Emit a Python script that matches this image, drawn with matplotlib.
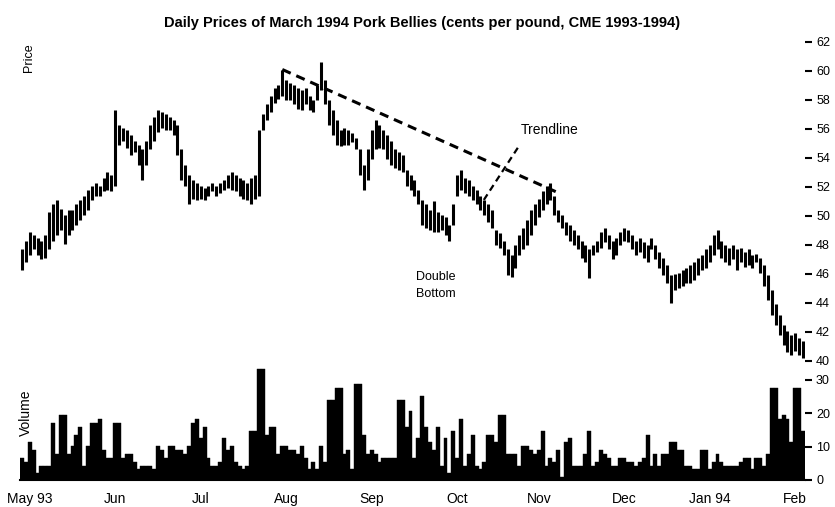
import numpy as np
import pandas as pd
import matplotlib
matplotlib.use("Agg")
import matplotlib.pyplot as plt

plt.rcParams['font.family'] = ['Liberation Sans', 'DejaVu Sans']

# daily high / low, cents per pound (one value per trading day)
high = [47.7, 48.3, 48.9, 48.7, 48.5, 48.3, 48.7, 50.3, 50.8, 51.1,
        50.5, 50.1, 50.4, 50.4, 50.8, 51.1, 51.4, 51.8, 52.1, 52.3,
        52.1, 52.6, 53.0, 52.8, 57.3, 56.3, 56.1, 55.9, 55.6, 55.2,
        54.9, 54.6, 55.2, 56.3, 56.8, 57.3, 57.2, 57.0, 56.8, 56.6,
        56.3, 54.6, 53.5, 52.8, 52.5, 52.3, 52.1, 51.9, 52.1, 52.3,
        52.1, 52.3, 52.5, 52.8, 53.0, 52.8, 52.6, 52.5, 52.3, 52.6,
        52.8, 55.9, 57.0, 57.7, 58.3, 58.8, 59.0, 60.1, 59.4, 59.2,
        59.0, 58.8, 58.7, 58.8, 58.3, 58.0, 59.0, 60.6, 59.4, 58.0,
        57.3, 56.6, 55.9, 56.1, 55.9, 55.7, 55.4, 54.6, 53.5, 54.6,
        55.9, 56.6, 56.3, 55.9, 55.6, 55.2, 54.6, 54.4, 54.2, 53.2,
        52.8, 52.5, 51.8, 51.1, 50.8, 50.4, 51.0, 50.3, 50.1, 49.9,
        49.4, 50.8, 52.8, 53.2, 52.6, 52.5, 52.1, 51.8, 51.4, 51.1,
        50.8, 50.4, 49.0, 48.8, 48.3, 47.7, 47.3, 48.0, 48.7, 49.2,
        49.7, 50.4, 50.8, 51.2, 51.7, 52.1, 52.3, 51.4, 50.4, 50.1,
        49.6, 49.4, 49.0, 48.7, 48.3, 48.0, 47.7, 48.0, 48.3, 48.9,
        49.2, 48.7, 48.3, 48.5, 48.9, 49.2, 49.0, 48.7, 48.3, 48.5,
        48.2, 48.0, 48.5, 48.0, 47.5, 47.1, 46.6, 45.9, 46.0, 46.1,
        46.3, 46.4, 46.6, 46.8, 47.1, 47.3, 47.7, 48.0, 48.7, 49.0,
        48.3, 48.0, 47.8, 48.0, 47.7, 47.8, 47.5, 47.7, 47.3, 47.4,
        47.1, 46.6, 45.9, 44.9, 43.9, 43.2, 42.5, 42.1, 41.8, 41.9,
        41.6, 41.4]
low = [46.3, 46.8, 47.3, 47.7, 47.3, 47.0, 47.1, 47.7, 48.3, 48.7,
       49.0, 48.1, 48.7, 49.0, 49.4, 49.7, 50.1, 50.4, 51.1, 51.4,
       51.4, 51.7, 51.8, 51.7, 52.1, 54.9, 55.2, 54.7, 54.2, 54.4,
       53.5, 52.5, 53.5, 54.6, 55.2, 55.8, 56.1, 55.9, 55.9, 55.6,
       54.2, 52.5, 52.1, 50.8, 51.2, 51.1, 51.2, 51.1, 51.4, 51.7,
       51.4, 51.6, 51.8, 51.9, 51.8, 51.7, 51.4, 51.2, 51.1, 50.8,
       51.2, 51.4, 55.9, 56.6, 57.2, 57.8, 58.1, 58.3, 58.0, 58.0,
       57.7, 57.4, 57.3, 57.7, 57.3, 57.2, 58.0, 58.7, 57.7, 56.3,
       55.6, 54.9, 54.8, 54.9, 54.9, 55.1, 54.6, 52.8, 51.8, 52.5,
       53.9, 54.6, 54.7, 54.6, 53.9, 53.5, 53.3, 53.2, 53.0, 52.1,
       51.8, 51.4, 50.8, 49.4, 49.2, 49.0, 48.9, 48.9, 49.0, 48.7,
       48.3, 49.4, 51.4, 51.8, 51.6, 51.4, 51.1, 50.8, 50.4, 50.1,
       49.6, 49.2, 48.0, 47.8, 47.3, 45.9, 45.8, 46.4, 47.3, 47.7,
       48.0, 48.7, 49.4, 49.9, 50.4, 50.8, 51.1, 50.1, 49.6, 49.2,
       48.7, 48.3, 48.0, 47.7, 47.1, 46.8, 45.7, 47.3, 47.5, 47.8,
       48.2, 47.7, 47.0, 47.3, 48.0, 48.3, 48.2, 47.7, 47.3, 47.5,
       47.1, 46.8, 47.7, 47.0, 46.4, 45.9, 45.4, 44.0, 44.9, 45.0,
       45.2, 45.4, 45.4, 45.6, 45.9, 46.3, 46.4, 46.8, 47.3, 47.7,
       47.1, 46.8, 46.6, 47.0, 46.3, 46.8, 46.5, 46.6, 46.4, 46.8,
       46.1, 45.2, 44.2, 43.2, 42.5, 41.8, 41.1, 40.6, 40.4, 40.7,
       40.4, 40.2]

# daily volume, hundreds of contracts
volume = [6.6, 5.4, 11.4, 9.0, 2.1, 4.2, 4.2, 4.2, 17.1, 7.8,
          19.5, 19.5, 7.8, 10.2, 13.5, 15.9, 4.2, 10.2, 17.1, 17.1,
          18.3, 9.0, 6.6, 6.6, 17.1, 17.1, 6.6, 7.8, 7.8, 5.4,
          3.3, 4.2, 4.2, 4.2, 3.3, 10.2, 9.0, 6.6, 10.2, 10.2,
          9.0, 9.0, 7.8, 10.2, 17.1, 18.3, 12.6, 15.9, 6.6, 4.2,
          4.2, 5.4, 12.6, 9.0, 10.2, 5.4, 4.2, 3.3, 4.2, 14.7,
          14.7, 33.3, 33.3, 13.5, 15.9, 15.9, 7.8, 10.2, 10.2, 9.0,
          9.0, 7.8, 10.2, 6.6, 3.3, 5.4, 3.3, 10.2, 5.4, 24.0,
          24.0, 27.6, 27.6, 7.8, 9.0, 3.3, 28.8, 28.8, 13.5, 7.8,
          9.0, 7.8, 5.4, 6.6, 6.6, 6.6, 6.6, 24.0, 24.0, 15.9,
          20.7, 6.6, 12.6, 25.2,
          15.9, 11.4, 9.0, 15.9, 4.2, 12.6, 2.1, 14.7, 6.6, 18.3,
          4.2, 7.8, 13.5, 4.2, 3.3, 5.4, 13.5, 13.5, 11.4, 19.5,
          19.5, 7.8, 7.8, 7.8, 4.2, 10.2, 10.2, 9.0, 7.8, 9.0,
          14.7, 4.2, 6.6, 5.4, 9.0, 0.9, 11.4, 12.6, 4.2, 4.2,
          4.2, 7.8, 14.7, 4.2, 5.4, 9.0, 7.8, 6.6, 4.2, 4.2,
          6.6, 6.6, 5.4, 5.4, 4.2, 5.4, 6.6, 13.5, 4.2, 7.8,
          4.2, 7.8, 7.8, 11.4, 11.4, 9.0, 9.0, 4.2, 4.2, 3.3,
          3.3, 9.0, 9.0, 3.3, 5.4, 7.8, 5.4, 4.2, 4.2, 4.2,
          4.2, 5.4, 6.6, 6.6, 3.3, 6.6, 6.6, 4.2, 7.8, 27.6,
          27.6, 18.3, 19.5, 18.3, 11.4, 27.6, 27.6, 14.7]

month_labels = ['May 93', 'Jun', 'Jul', 'Aug', 'Sep', 'Oct', 'Nov', 'Dec', 'Jan 94', 'Feb']
price_ticks = [40, 42, 44, 46, 48, 50, 52, 54, 56, 58, 60, 62]
volume_ticks = [0, 10, 20, 30]

# trendline drawn from the August high to the November rally top
trend_day = [67, 138]
trend_price = [60.1, 51.6]
# pointer from the "Trendline" note
pointer_day = [127.6, 118.6]
pointer_price = [54.7, 51.0]

n = len(volume)
days = pd.bdate_range(end='1994-02-17', periods=n)
label_pos = []
for m in pd.period_range('1993-05', '1994-02', freq='M'):
    mid = pd.Timestamp(m.year, m.month, 15)
    label_pos.append(int(np.argmin(np.abs((days - mid).days))))

fig = plt.figure(figsize=(8.35, 5.07), dpi=100)
ax = fig.add_axes([0.024, 0.286, 0.940, 0.655])
axv = fig.add_axes([0.024, 0.0533, 0.940, 0.306])
ax.patch.set_visible(False)
axv.patch.set_visible(False)

xp = np.arange(len(high))
ax.vlines(xp, low, high, color='black', lw=2.2)
ax.plot(trend_day, trend_price, color='black', lw=2.2, ls=(0, (3, 2)))
ax.plot(pointer_day, pointer_price, color='black', lw=1.6, ls=(0, (3, 2)))

ax.text(128.3, 55.9, 'Trendline', fontsize=10, va='center', ha='left')
ax.text(101.5, 46.2, 'Double\nBottom', fontsize=9, ha='left', va='top', linespacing=1.5)
ax.text(0.3, 61.9, 'Price', rotation=90, fontsize=9, ha='left', va='top')

ax.set_xlim(-0.5, n - 0.5)
ax.set_ylim(39.93, 62.83)
ax.set_xticks([])
ax.yaxis.tick_right()
ax.set_yticks(price_ticks)
ax.tick_params(axis='y', length=5, width=1.5, labelsize=9, pad=3)
for s in ax.spines.values():
    s.set_visible(False)

axv.bar(np.arange(n), volume, width=1.0, color='black', edgecolor='black', lw=0.3)
axv.text(-0.8, 20.0, 'Volume', rotation=90, fontsize=10, ha='left', va='center')
axv.set_xlim(-0.5, n - 0.5)
axv.set_ylim(0, 46.5)
axv.yaxis.tick_right()
axv.set_yticks(volume_ticks)
axv.tick_params(axis='y', length=5, width=1.5, labelsize=9, pad=3)
axv.set_xticks(label_pos)
axv.set_xticklabels(month_labels, fontsize=10)
axv.tick_params(axis='x', length=0, pad=9)
for k in ['top', 'left', 'right']:
    axv.spines[k].set_visible(False)
axv.spines['bottom'].set_linewidth(1.5)

fig.text(0.505, 0.955, 'Daily Prices of March 1994 Pork Bellies (cents per pound, CME 1993-1994)',
         ha='center', va='center', fontsize=10.5, fontweight='bold')

fig.savefig('out.png', dpi=100)
